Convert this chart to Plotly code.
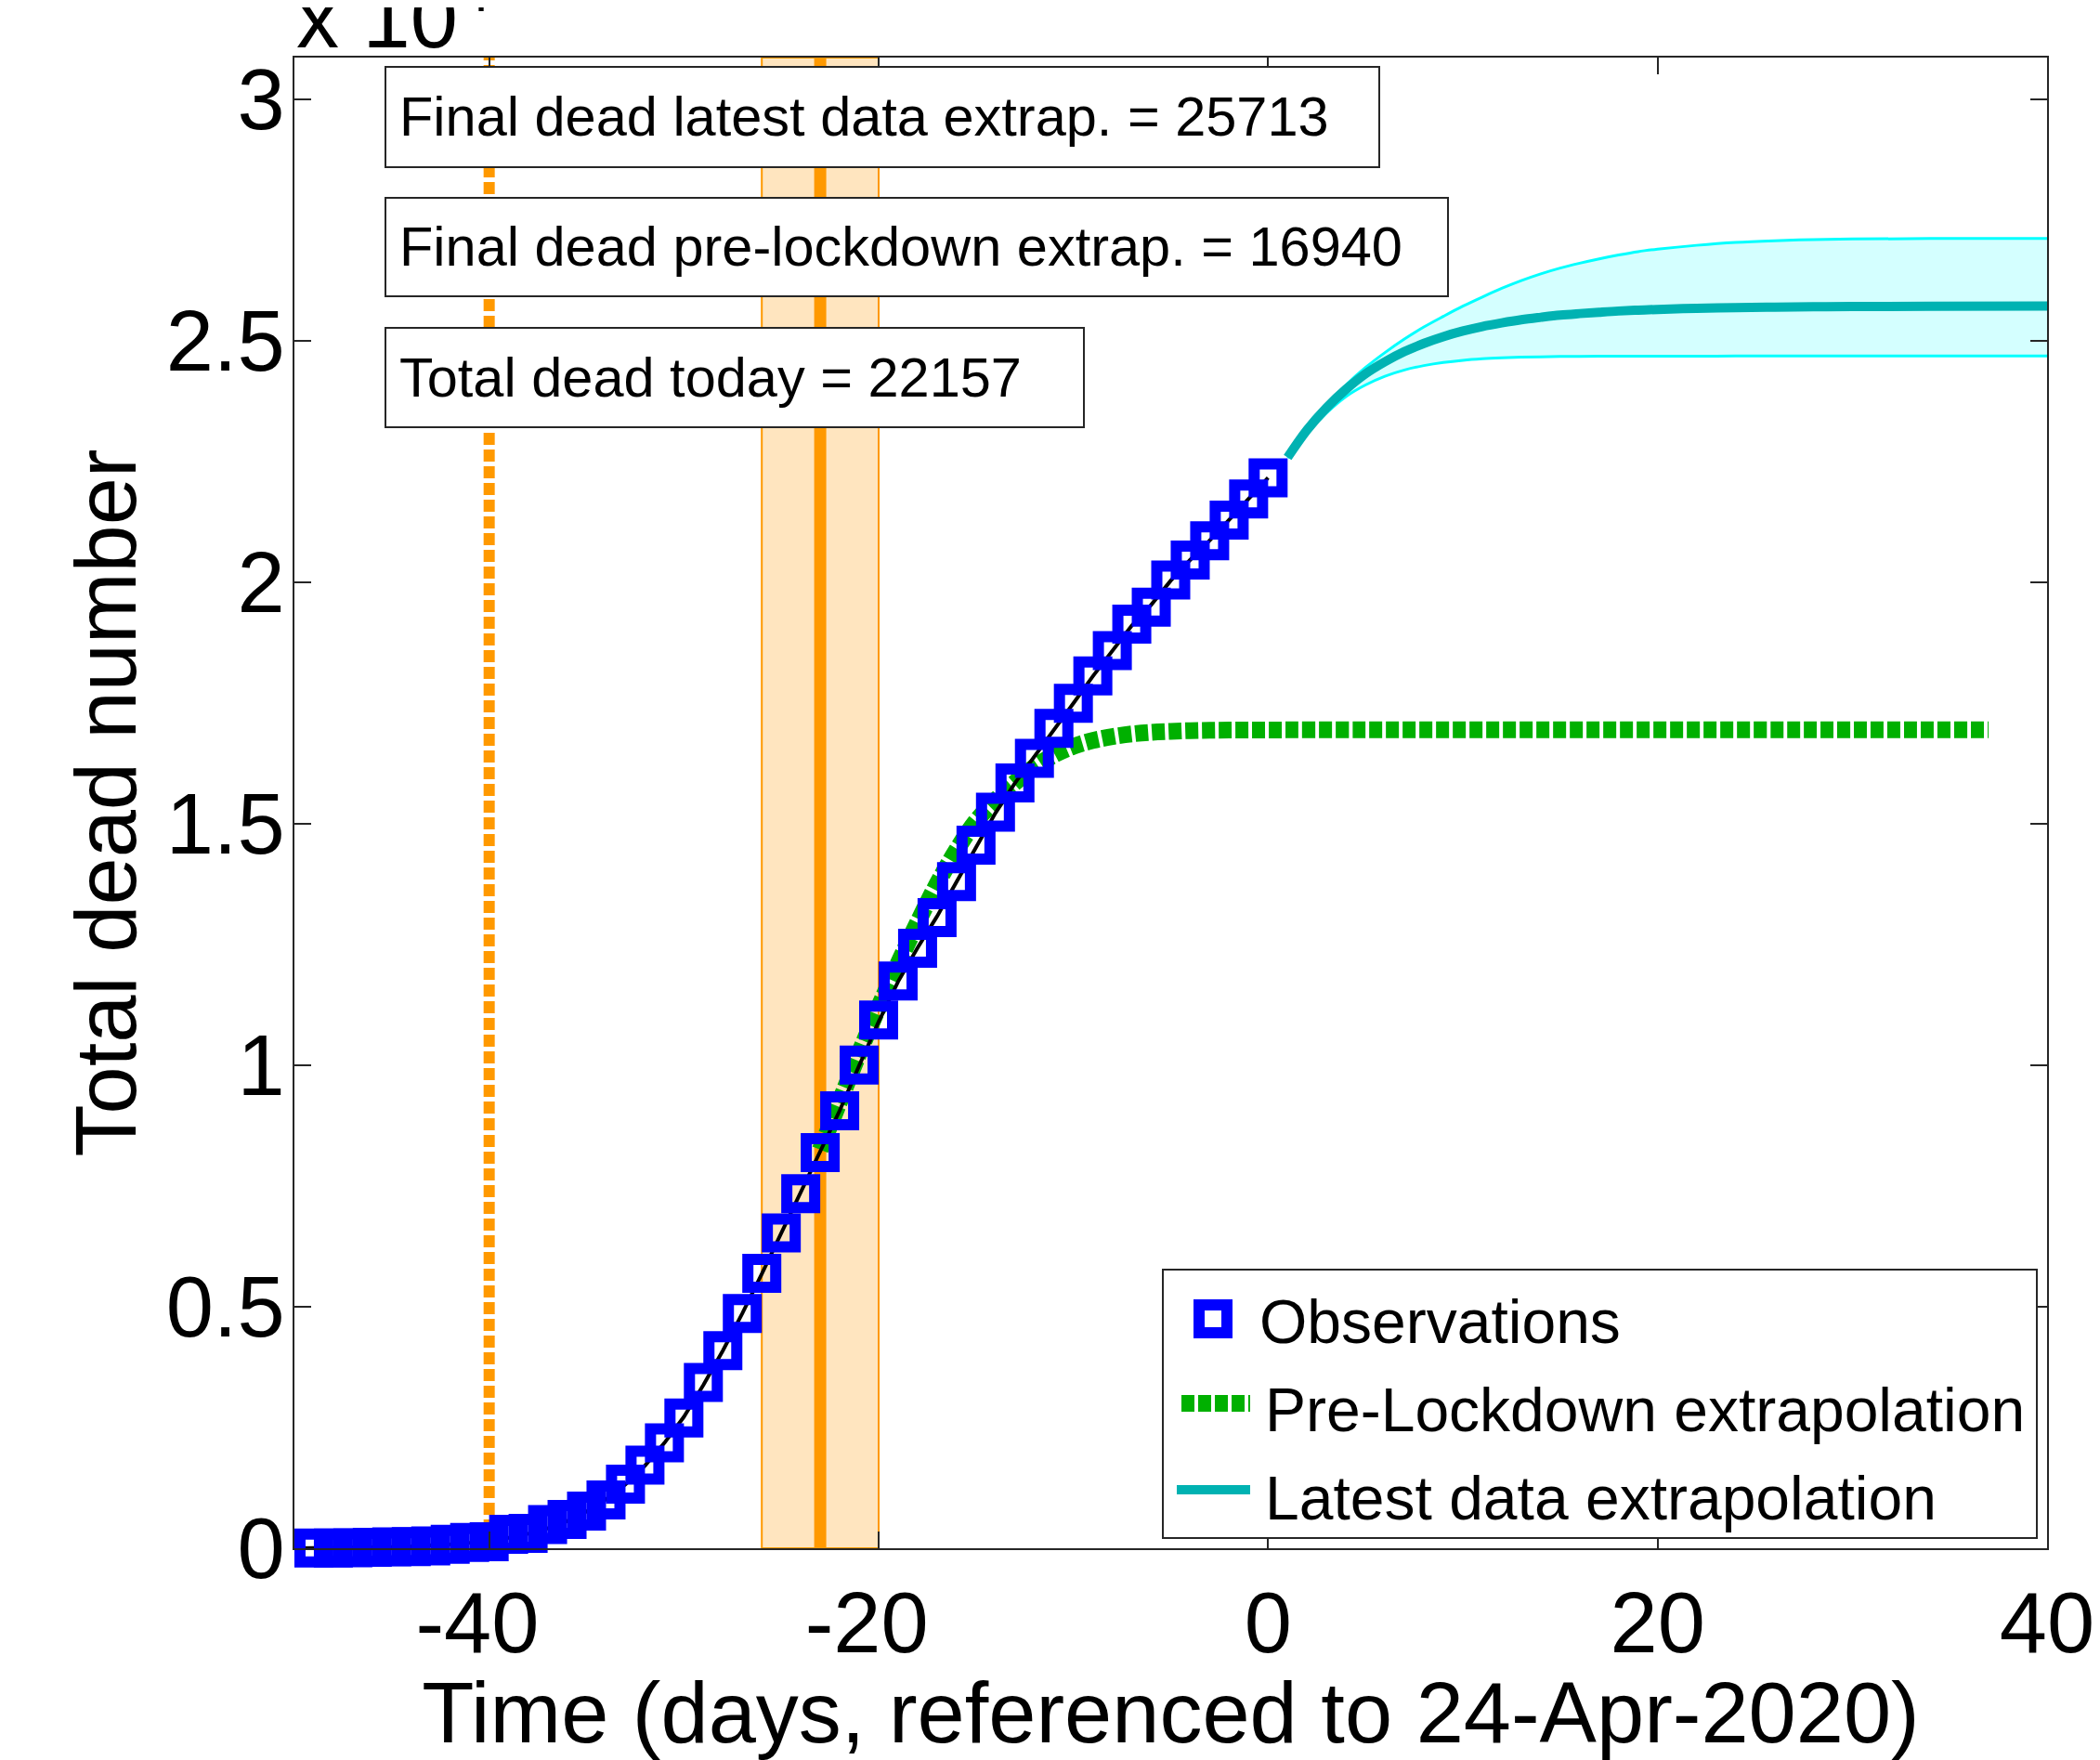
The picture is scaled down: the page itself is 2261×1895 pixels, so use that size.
import plotly.graph_objects as go

# ---------------- data ----------------
obs_days = list(range(-49, 1))
obs_dead = [3, 5, 10, 17, 28, 35, 47, 84, 120, 136,
            288, 309, 491, 598, 767, 1002, 1326, 1720, 2182, 2696,
            3434, 4089, 4858, 5690, 6528, 7340, 8189, 9053, 10003, 10935,
            11744, 12418, 13055, 13798, 14555, 15238, 15843, 16353, 16972, 17489,
            18056, 18579, 19130, 19478, 20043, 20453, 20852, 21282, 21717, 22157]

fit_days = list(range(-50, 1))
fit_dead = [2, 4, 7, 11, 17, 26, 38, 55, 80, 113,
            158, 218, 300, 410, 560, 760, 1010, 1320, 1710, 2180,
            2720, 3380, 4090, 4860, 5680, 6520, 7350, 8190, 9060, 9990,
            10900, 11730, 12430, 13080, 13790, 14530, 15220, 15840, 16380, 16950,
            17490, 18050, 18580, 19100, 19530, 20030, 20460, 20860, 21290, 21720, 22160]

pre_days = [-23, -22, -21, -20, -19, -18, -17, -16, -15, -14, -13, -12, -11, -10,
            -9, -8, -7, -6, -5, -4, -3, -2, 0, 5, 10, 15, 20, 25, 30, 37]
pre_dead = [8250, 9250, 10250, 11200, 12100, 12950, 13750, 14450, 15050, 15480, 15850, 16170, 16420, 16600,
            16720, 16800, 16855, 16890, 16910, 16925, 16932, 16936, 16939, 16940, 16940, 16940, 16940, 16940, 16940, 16940]

ext_days = [1, 2, 3, 4, 5, 6, 7, 8, 9, 10, 11, 12, 13, 14, 15, 16, 17, 18, 19, 20,
            22, 24, 26, 28, 30, 34, 40]
ext_mid = [22580, 23150, 23610, 23990, 24310, 24560, 24770, 24940, 25080, 25195, 25290, 25365, 25430, 25480,
           25525, 25557, 25585, 25610, 25628, 25643, 25665, 25680, 25690, 25698, 25703, 25709, 25713]
ext_hi = [22600, 23160, 23650, 24080, 24440, 24750, 25030, 25280, 25500, 25710, 25900, 26080, 26240, 26380,
          26500, 26600, 26690, 26770, 26840, 26890, 26970, 27030, 27065, 27088, 27100, 27110, 27112]
ext_lo = [22570, 23080, 23500, 23840, 24080, 24260, 24390, 24480, 24545, 24590, 24620, 24640, 24655, 24663,
          24668, 24671, 24673, 24674, 24675, 24676, 24677, 24678, 24679, 24680, 24680, 24680, 24680]

lockdown_day = -40
change_day = -23
change_band = [-26, -20]

final_latest = 25713
final_pre = 16940
dead_today = 22157

x_ticks = [-40, -20, 0, 20, 40]
x_ticktext = ['-40\u00a0', '-20\u00a0', '0', '20', '40']
y_ticks = [0, 5000, 10000, 15000, 20000, 25000, 30000]
y_ticktext = ['0', '0.5', '1', '1.5', '2', '2.5', '3']

# ---------------- geometry (reference pixel frame) ----------------
OFF = 8  # page body margin in the browser
W_FIG, H_FIG = 2261 - OFF, 1895 - OFF
L, R, T, B = 317, 2204, 62, 1667
FONT = 'Liberation Sans, Arial, sans-serif'
AX = '#262626'


def pxx(x):
    return (x - L) / (R - L)


def pxy(y):
    return (B - y) / (B - T)


fig = go.Figure()

# extrapolation band
fig.add_trace(go.Scatter(x=ext_days, y=ext_hi, mode='lines', line=dict(color='#00FFFF', width=3, shape='spline'),
                         showlegend=False, hoverinfo='skip'))
fig.add_trace(go.Scatter(x=ext_days, y=ext_lo, mode='lines', line=dict(color='#00FFFF', width=3, shape='spline'),
                         fill='tonexty', fillcolor='rgba(0,255,255,0.17)', showlegend=False, hoverinfo='skip'))
fig.add_trace(go.Scatter(x=ext_days, y=ext_mid, mode='lines', name='Latest data extrapolation',
                         line=dict(color='#00B2B2', width=10, shape='spline'), showlegend=False))
fig.add_trace(go.Scatter(x=pre_days, y=pre_dead, mode='lines', name='Pre-Lockdown extrapolation',
                         line=dict(color='#00B000', width=18, dash='14px,4px', shape='spline'), showlegend=False))
fig.add_trace(go.Scatter(x=fit_days, y=fit_dead, mode='lines', name='Fit',
                         line=dict(color='black', width=4), showlegend=False))
fig.add_trace(go.Scatter(x=obs_days, y=obs_dead, mode='markers', name='Observations',
                         marker=dict(symbol='square-open', size=30, color='#0000FF',
                                     line=dict(color='#0000FF', width=12)),
                         cliponaxis=False, showlegend=False))

shapes = []
# lockdown band and lines (below traces)
shapes.append(dict(type='rect', xref='x', yref='paper', x0=change_band[0], x1=change_band[1], y0=0, y1=1,
                   fillcolor='rgba(255,153,0,0.25)', line=dict(color='#FF9900', width=2), layer='below'))
shapes.append(dict(type='line', xref='x', yref='paper', x0=change_day, x1=change_day, y0=0, y1=1,
                   line=dict(color='#FF9900', width=13), layer='below'))
shapes.append(dict(type='line', xref='x', yref='paper', x0=lockdown_day, x1=lockdown_day, y0=0, y1=1,
                   line=dict(color='#FF9900', width=12, dash='13px,5px'), layer='below'))

annotations = []
# text boxes
boxes = [
    (72, 180, 1485, 'Final dead latest data extrap. = %d' % final_latest),
    (213, 319, 1559, 'Final dead pre-lockdown extrap. = %d' % final_pre),
    (353, 460, 1167, 'Total dead today = %d' % dead_today),
]
for top, bot, right, txt in boxes:
    shapes.append(dict(type='rect', xref='paper', yref='paper', x0=pxx(415), x1=pxx(right),
                       y0=pxy(bot), y1=pxy(top), fillcolor='white',
                       line=dict(color=AX, width=2), layer='above'))
    annotations.append(dict(xref='paper', yref='paper', x=pxx(428), y=pxy((top + bot) / 2),
                            xanchor='left', yanchor='middle', text=txt, showarrow=False,
                            font=dict(family=FONT, size=59.5, color='black')))

# manual legend
shapes.append(dict(type='rect', xref='paper', yref='paper', x0=pxx(1252), x1=pxx(2193),
                   y0=pxy(1656), y1=pxy(1367), fillcolor='white', line=dict(color=AX, width=2),
                   layer='above'))
shapes.append(dict(type='rect', xref='paper', yref='paper', x0=pxx(1306 - 15), x1=pxx(1306 + 15),
                   y0=pxy(1420 + 15), y1=pxy(1420 - 15), fillcolor='white',
                   line=dict(color='#0000FF', width=12), layer='above'))
shapes.append(dict(type='line', xref='paper', yref='paper', x0=pxx(1272), x1=pxx(1346),
                   y0=pxy(1511), y1=pxy(1511), line=dict(color='#00B000', width=18, dash='14px,4px'),
                   layer='above'))
shapes.append(dict(type='line', xref='paper', yref='paper', x0=pxx(1267), x1=pxx(1346),
                   y0=pxy(1604), y1=pxy(1604), line=dict(color='#00B2B2', width=10), layer='above'))
for ytxt, txt, xl in [(1423, 'Observations', 1354), (1518, 'Pre-Lockdown extrapolation', 1360),
                      (1613, 'Latest data extrapolation', 1360)]:
    annotations.append(dict(xref='paper', yref='paper', x=pxx(xl), y=pxy(ytxt), xanchor='left',
                            yanchor='middle', text=txt, showarrow=False,
                            font=dict(family=FONT, size=66, color='black')))

# exponent label (top of it is cut by the page edge, as in the reference)
annotations.append(dict(xref='paper', yref='paper', x=0, y=1, xanchor='left', yanchor='bottom',
                        yshift=-10, text='x 10<sup>4</sup>', showarrow=False,
                        font=dict(family=FONT, size=92, color='black')))

axis_common = dict(showgrid=False, zeroline=False, showline=True, linecolor=AX, linewidth=2,
                   mirror='ticks', ticks='inside', ticklen=18, tickwidth=2, tickcolor=AX,
                   automargin=False,
                   tickfont=dict(family=FONT, size=92, color='black'))

fig.update_layout(
    width=W_FIG, height=H_FIG,
    margin=dict(l=L - OFF, r=W_FIG - (R - OFF), t=T - OFF, b=H_FIG - (B - OFF)),
    paper_bgcolor='white', plot_bgcolor='white',
    showlegend=False,
    xaxis=dict(range=[-50, 40], tickmode='array', tickvals=x_ticks, ticktext=x_ticktext,
               title=dict(text='Time (days, referenced to 24-Apr-2020)',
                          font=dict(family=FONT, size=92, color='black'), standoff=0),
               **axis_common),
    yaxis=dict(range=[0, 30856], tickmode='array', tickvals=y_ticks, ticktext=y_ticktext,
               ticklabelstandoff=-10,
               title=dict(text='Total dead number', font=dict(family=FONT, size=92, color='black'),
                          standoff=1),
               **axis_common),
    shapes=shapes,
    annotations=annotations,
)

fig.write_html('out.html')
